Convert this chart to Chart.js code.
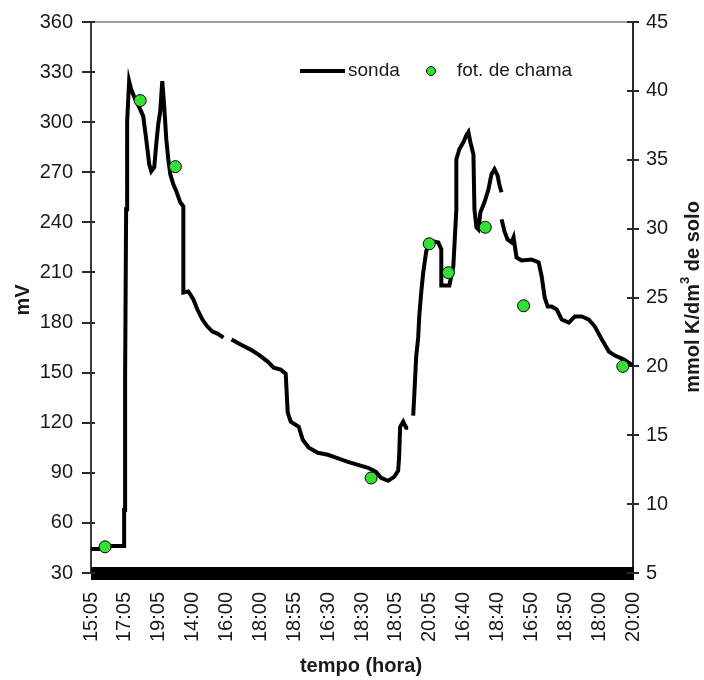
<!DOCTYPE html>
<html>
<head>
<meta charset="utf-8">
<script src="https://cdn.jsdelivr.net/npm/chart.js@4.4.1/dist/chart.umd.min.js"></script>
<style>
  html, body { margin: 0; padding: 0; background: #fff; }
  #wrap { width: 704px; height: 680px; }
</style>
</head>
<body>
<div id="wrap"><canvas id="c" width="704" height="680"></canvas></div>
<script>
// Hour labels shown along the time axis (one per label step)
const horaLabels = ['15:05', '17:05', '19:05', '14:00', '16:00', '18:00', '18:55', '16:30',
  '18:30', '18:05', '20:05', '16:40', '18:40', '16:50', '18:50', '18:00', '20:00'];

// Probe reading (mV): position along the time axis, in label steps
const sondaHora = [
  0, 0.356, 0.385, 0.978, 0.978, 1.007, 1.007, 1.037, 1.067, 1.067, 1.126, 1.185, 1.304, 1.422,
  1.541, 1.630, 1.719, 1.778, 1.867, 1.926, 1.985, 2.044, 2.104, 2.163, 2.222, 2.281, 2.341,
  2.430, 2.519, 2.637, 2.726, 2.726, 2.874, 2.933, 3.022, 3.141, 3.289, 3.437, 3.585, 3.733,
  3.911, 4.03,
  4.148, 4.415, 4.711, 4.948, 5.215, 5.393, 5.600, 5.748, 5.807, 5.896, 6.133, 6.252, 6.430,
  6.696, 6.993, 7.170, 7.585, 7.881, 8.178, 8.415, 8.563, 8.770, 8.948, 9.067, 9.096, 9.126,
  9.215, 9.304, 9.363, 9.44,
  9.511, 9.541, 9.600, 9.659, 9.689, 9.748, 9.807, 9.896, 9.985, 10.252, 10.341, 10.341,
  10.578, 10.696, 10.785, 10.785, 10.874, 10.993, 11.081, 11.141, 11.200, 11.289, 11.319,
  11.378, 11.437, 11.496, 11.615, 11.733, 11.822, 11.911, 12.0, 12.059, 12.119, 12.12,
  12.121, 12.207, 12.296, 12.415, 12.474, 12.563, 12.711, 13.007, 13.215, 13.304, 13.393,
  13.481, 13.600, 13.748, 13.896, 14.104, 14.281, 14.489, 14.696, 14.874, 15.081, 15.289,
  15.467, 15.733, 16.0
];
const sondaMV = [
  44.4, 44.4, 46.2, 46.2, 67.8, 67.8, 147, 247.8, 247.8, 300.6, 324.6, 319.8, 313.8, 309,
  303.6, 289.8, 274.8, 270.6, 273, 286.8, 298.8, 306.6, 324.6, 309, 289.8, 277.8, 268.8,
  262.8, 258.6, 252, 249.6, 198, 198.6, 196.8, 193.8, 187.8, 181.8, 177.6, 174.6, 173.4,
  171, null,
  169.8, 166.8, 163.8, 160.8, 156.6, 153, 151.8, 149.4, 126, 120.6, 117.6, 109.8, 105,
  102, 100.8, 99.6, 96.6, 94.8, 93, 90.6, 87, 85.2, 87.6, 91.2, 99.6, 117.6,
  120.6, 117, 117, null,
  124.2, 135.6, 159.6, 171, 183.6, 198, 210, 222.6, 229.2, 228, 223.8, 202.2,
  202.2, 213.6, 247.8, 277.8, 283.8, 288, 292.2, 294, 288, 280.8, 247.8,
  237, 235.8, 246, 252, 259.8, 268.8, 271.8, 268.2, 262.2, 258, null,
  241.8, 234.6, 229.8, 228, 231, 219, 217.2, 217.8, 216, 207.6, 195,
  189.6, 189.6, 187.8, 181.8, 180, 183.6, 183.6, 181.8, 177.6, 169.8, 162.6,
  160.2, 157.8, 154.2
];

// Flame photometry (mmol K/dm3 of soil)
const chamaHora = [0.415, 1.452, 2.49, 8.27, 9.985, 10.55, 11.64, 12.77, 15.70];
const chamaK = [6.9, 39.3, 34.5, 11.9, 28.9, 26.8, 30.1, 24.4, 20.0];

const FONT = '"Liberation Sans", Arial, sans-serif';
const TEXT = '#1a1a1a';
const GREEN = '#33e033';

const sondaPts = sondaHora.map((h, i) => ({ x: h, y: sondaMV[i] }));
const chamaPts = chamaHora.map((h, i) => ({ x: h, y: chamaK[i] }));

// Frame line, dense time-axis band, crossing tick marks, axis titles and the in-plot legend
const decor = {
  id: 'decor',
  beforeDatasetsDraw(chart) {
    const { ctx, chartArea: a, scales } = chart;
    ctx.save();
    ctx.strokeStyle = '#a0a0a0';
    ctx.lineWidth = 2;
    ctx.beginPath();
    ctx.moveTo(a.left, a.top);
    ctx.lineTo(a.right, a.top);
    ctx.stroke();

    // solid band formed by the closely packed time-axis marks
    ctx.fillStyle = '#000';
    ctx.fillRect(a.left, a.bottom - 6, a.right - a.left + 1, 13);

    ctx.strokeStyle = '#2a2a2a';
    ctx.lineWidth = 2;
    ctx.beginPath();
    scales.y.ticks.forEach(t => {
      const py = Math.round(scales.y.getPixelForValue(t.value));
      ctx.moveTo(a.left - 9, py);
      ctx.lineTo(a.left + 4, py);
    });
    scales.y1.ticks.forEach(t => {
      const py = Math.round(scales.y1.getPixelForValue(t.value));
      ctx.moveTo(a.right - 6, py);
      ctx.lineTo(a.right + 6, py);
    });
    ctx.stroke();
    ctx.restore();
  },
  afterDraw(chart) {
    const { ctx } = chart;
    ctx.save();
    ctx.fillStyle = TEXT;

    // axis titles
    ctx.font = 'bold 20px ' + FONT;
    ctx.textAlign = 'center';
    ctx.textBaseline = 'middle';
    ctx.fillText('tempo (hora)', 361, 666);

    ctx.save();
    ctx.translate(23, 300);
    ctx.rotate(-Math.PI / 2);
    ctx.fillText('mV', 0, 0);
    ctx.restore();

    // right title with superscript
    ctx.save();
    ctx.translate(693, 297);
    ctx.rotate(-Math.PI / 2);
    const p1 = 'mmol K/dm', p2 = '3', p3 = ' de solo';
    ctx.font = 'bold 20px ' + FONT;
    const w1 = ctx.measureText(p1).width;
    const w3 = ctx.measureText(p3).width;
    ctx.font = 'bold 13px ' + FONT;
    const w2 = ctx.measureText(p2).width;
    let x = -(w1 + w2 + w3) / 2;
    ctx.textAlign = 'left';
    ctx.font = 'bold 20px ' + FONT;
    ctx.fillText(p1, x, 0);
    x += w1;
    ctx.font = 'bold 13px ' + FONT;
    ctx.fillText(p2, x, -8);
    x += w2;
    ctx.font = 'bold 20px ' + FONT;
    ctx.fillText(p3, x, 0);
    ctx.restore();

    // legend
    const ly = 71;
    ctx.strokeStyle = '#000';
    ctx.lineWidth = 4;
    ctx.beginPath();
    ctx.moveTo(300, ly);
    ctx.lineTo(345, ly);
    ctx.stroke();
    ctx.font = '19px ' + FONT;
    ctx.textAlign = 'left';
    ctx.textBaseline = 'middle';
    ctx.fillText('sonda', 348, ly);
    ctx.beginPath();
    ctx.arc(431, ly, 4.5, 0, Math.PI * 2);
    ctx.fillStyle = GREEN;
    ctx.fill();
    ctx.lineWidth = 1;
    ctx.strokeStyle = '#000';
    ctx.stroke();
    ctx.fillStyle = TEXT;
    ctx.fillText('fot. de chama', 457, ly);
    ctx.restore();
  }
};

new Chart(document.getElementById('c'), {
  type: 'line',
  data: {
    datasets: [
      {
        label: 'sonda',
        data: sondaPts,
        yAxisID: 'y',
        borderColor: '#000',
        borderWidth: 4,
        pointRadius: 0,
        tension: 0,
        spanGaps: false,
        fill: false,
        order: 2
      },
      {
        label: 'fot. de chama',
        data: chamaPts,
        yAxisID: 'y1',
        showLine: false,
        pointRadius: 6,
        pointHoverRadius: 6,
        pointBackgroundColor: GREEN,
        pointBorderColor: '#000',
        pointBorderWidth: 1,
        order: 1
      }
    ]
  },
  options: {
    responsive: false,
    animation: false,
    events: [],
    layout: { padding: { top: 22, left: 0, right: 0, bottom: 0 } },
    plugins: { legend: { display: false }, tooltip: { enabled: false } },
    scales: {
      x: {
        type: 'linear',
        min: 0,
        max: horaLabels.length - 1,
        afterFit(s) { s.height = 107; },
        grid: { display: false, drawTicks: false },
        border: { display: false },
        ticks: {
          stepSize: 1,
          autoSkip: false,
          maxRotation: 90,
          minRotation: 90,
          padding: 19,
          color: TEXT,
          font: { family: FONT, size: 20 },
          callback: v => horaLabels[v] ?? ''
        }
      },
      y: {
        position: 'left',
        min: 30,
        max: 360,
        afterFit(s) { s.width = 91; },
        grid: { display: false, drawTicks: true, tickLength: 18 },
        border: { display: true, color: '#3a3a3a', width: 2 },
        ticks: {
          stepSize: 30,
          padding: 0,
          color: TEXT,
          font: { family: FONT, size: 20 }
        }
      },
      y1: {
        position: 'right',
        min: 5,
        max: 45,
        afterFit(s) { s.width = 71; },
        grid: { display: false, drawTicks: true, tickLength: 13 },
        border: { display: true, color: '#2a2a2a', width: 2 },
        ticks: {
          stepSize: 5,
          padding: 0,
          color: TEXT,
          font: { family: FONT, size: 20 }
        }
      }
    }
  },
  plugins: [decor]
});
</script>
</body>
</html>
